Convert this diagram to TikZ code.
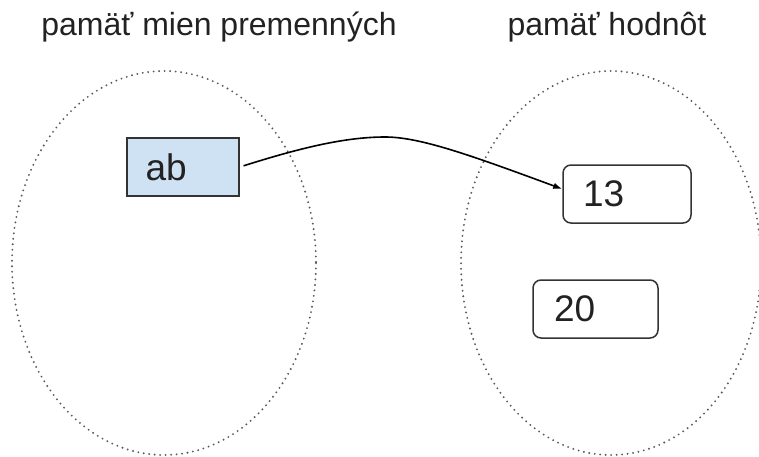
\documentclass[tikz,border=0pt]{standalone}
\usepackage{fontspec}
\setmainfont{Liberation Sans}
\usetikzlibrary{arrows.meta}
\definecolor{boxblue}{HTML}{CFE2F3}
\definecolor{ink}{HTML}{222222}
\definecolor{edge}{HTML}{333333}
\tikzset{
  title/.style={anchor=base, text=ink, font=\fontsize{32}{38}\selectfont, inner sep=0pt},
  region/.style={draw=black!65, line width=2.1pt, dash pattern=on 0pt off 5.5pt, line cap=round},
  membox/.style={draw=edge, line width=1.5pt, minimum height=58pt, align=left,
    text=ink, font=\fontsize{37}{42}\selectfont, inner ysep=0pt},
  varbox/.style={membox, fill=boxblue},
  valbox/.style={membox, fill=white, rounded corners=8pt},
  pointer/.style={draw=black, line width=1.6pt, -{Latex[length=9pt,width=6.5pt]}, shorten <=4pt}
}
\begin{document}
\begin{tikzpicture}[x=1pt,y=-1pt]
\useasboundingbox (0,0) rectangle (759,457);
\node[title] (t1) at (219,36) {pamäť mien premenných};
\node[title] (t2) at (607,36) {pamäť hodnôt};
\draw[region] (164,263) ellipse [x radius=152, y radius=192];
\draw[region] (611,263) ellipse [x radius=150, y radius=192];
\node[varbox, text width=75pt, inner xsep=18.5pt] (ab) at (183,167) {ab};
\node[valbox, text width=88pt, inner xsep=20pt] (n13) at (627,194) {13};
\node[valbox, text width=83pt, inner xsep=21pt] (n20) at (595.5,309) {20};
\draw[pointer] (ab.east) .. controls (300,148) and (345,137) .. (385,137)
  .. controls (420,137) and (470,155) .. ([yshift=5pt]n13.west);
\end{tikzpicture}
\end{document}
